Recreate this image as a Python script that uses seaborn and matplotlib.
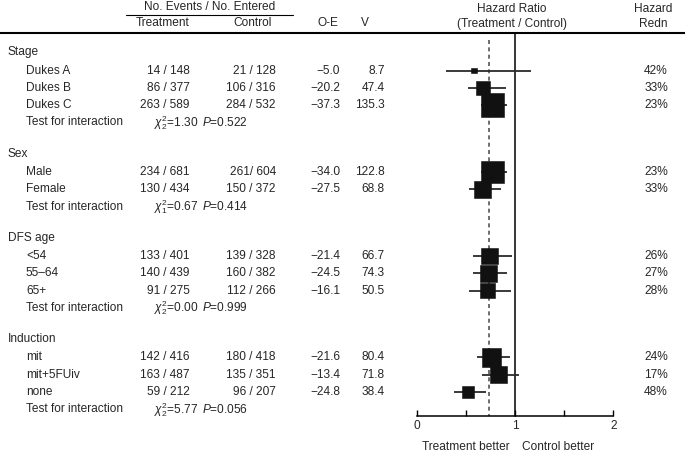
import numpy as np
import pandas as pd
import seaborn as sns
import matplotlib
matplotlib.use('Agg')
from matplotlib import pyplot as plt

groups = ['Stage', 'Sex', 'DFS age', 'Induction']
subgroups = [['Dukes A', 'Dukes B', 'Dukes C'],
             ['Male', 'Female'],
             ['<54', '55\u201364', '65+'],
             ['mit', 'mit+5FUiv', 'none']]
treatment = ['14 / 148', '86 / 377', '263 / 589',
             '234 / 681', '130 / 434',
             '133 / 401', '140 / 439', '91 / 275',
             '142 / 416', '163 / 487', '59 / 212']
control = ['21 / 128', '106 / 316', '284 / 532',
           '261/ 604', '150 / 372',
           '139 / 328', '160 / 382', '112 / 266',
           '180 / 418', '135 / 351', '96 / 207']
o_minus_e = [-5.0, -20.2, -37.3, -34.0, -27.5, -21.4, -24.5, -16.1, -21.6, -13.4, -24.8]
variance = [8.7, 47.4, 135.3, 122.8, 68.8, 66.7, 74.3, 50.5, 80.4, 71.8, 38.4]
hr = [0.58, 0.67, 0.77, 0.77, 0.67, 0.74, 0.73, 0.72, 0.76, 0.83, 0.52]
ci_low = [0.30, 0.52, 0.65, 0.65, 0.53, 0.57, 0.57, 0.53, 0.61, 0.66, 0.38]
ci_high = [1.16, 0.91, 0.92, 0.92, 0.86, 0.97, 0.92, 0.96, 0.95, 1.04, 0.71]
redn = [42, 33, 23, 23, 33, 26, 27, 28, 24, 17, 48]
chi_df = [2, 1, 2, 2]
chi_val = [1.30, 0.67, 0.00, 5.77]
p_val = [0.522, 0.414, 0.999, 0.056]
overall_hr = 0.74

sns.set_theme(style='white')
plt.rcParams['font.family'] = ['Liberation Sans', 'DejaVu Sans']
plt.rcParams['mathtext.fontset'] = 'custom'
plt.rcParams['mathtext.rm'] = 'Liberation Sans'
plt.rcParams['mathtext.it'] = 'Liberation Sans:italic'
fs = 8.6

# row layout (pixel coordinates, top = 0)
header_y, item_y, test_y = [], [], []
y = 52.5
for subs in subgroups:
    header_y.append(y)
    ys = y + 18 + 17.3 * np.arange(len(subs))
    item_y.extend(ys)
    test_y.append(ys[-1] + 17.3)
    y = test_y[-1] + 31.5

df = pd.DataFrame({'hr': hr, 'lo': ci_low, 'hi': ci_high, 'v': variance, 'y': item_y})

fig = plt.figure(figsize=(6.85, 4.53), dpi=100)
tax = fig.add_axes([0, 0, 1, 1])
tax.set_xlim(0, 685)
tax.set_ylim(453, 0)
tax.axis('off')

# header
tax.text(210, 7, 'No. Events / No. Entered', ha='center', va='center', fontsize=fs)
tax.plot([126, 293], [15, 15], color='black', lw=0.8)
tax.text(163, 23.5, 'Treatment', ha='center', va='center', fontsize=fs)
tax.text(253, 23.5, 'Control', ha='center', va='center', fontsize=fs)
tax.text(328, 23.5, 'O-E', ha='center', va='center', fontsize=fs)
tax.text(365, 23.5, 'V', ha='center', va='center', fontsize=fs)
tax.text(512, 9, 'Hazard Ratio', ha='center', va='center', fontsize=fs)
tax.text(512, 24, '(Treatment / Control)', ha='center', va='center', fontsize=fs)
tax.text(653, 9, 'Hazard', ha='center', va='center', fontsize=fs)
tax.text(653, 24, 'Redn', ha='center', va='center', fontsize=fs)
tax.plot([0, 685], [33.3, 33.3], color='black', lw=1.5)

for g, yy in zip(groups, header_y):
    tax.text(8, yy, g, ha='left', va='center', fontsize=fs)

labels = [s for subs in subgroups for s in subs]
for i, yy in enumerate(item_y):
    tax.text(26, yy, labels[i], ha='left', va='center', fontsize=fs)
    tax.text(190, yy, treatment[i], ha='right', va='center', fontsize=fs)
    tax.text(276, yy, control[i], ha='right', va='center', fontsize=fs)
    tax.text(340, yy, f'{o_minus_e[i]:.1f}'.replace('-', '\u2212'), ha='right', va='center', fontsize=fs)
    tax.text(385, yy, f'{variance[i]:.1f}', ha='right', va='center', fontsize=fs)
    tax.text(668, yy, f'{redn[i]}%', ha='right', va='center', fontsize=fs)

for j, yy in enumerate(test_y):
    tax.text(26, yy, 'Test for interaction', ha='left', va='center', fontsize=fs)
    tax.text(154, yy, r'$\chi^2_{%d}$=%.2f' % (chi_df[j], chi_val[j]), ha='left', va='center', fontsize=fs)
    tax.text(202, yy, r'$P$=%.3f' % p_val[j], ha='left', va='center', fontsize=fs)

# forest panel: x in hazard ratio units, y in pixels
ax = fig.add_axes([0, 0, 1, 1])
ax.patch.set_alpha(0)
px0, px_per = 416.7, 98.3
axis_y = 415.7

ax.hlines(df['y'], df['lo'], df['hi'], color='#2b2b2b', lw=1.3, zorder=2)
sns.scatterplot(data=df, x='hr', y='y', size='v', sizes=(0, 290), size_norm=(0, 135.3),
                marker='s', color='#111111', edgecolor='#111111', linewidth=0.4,
                legend=False, ax=ax, zorder=3)
ax.plot([overall_hr, overall_hr], [40, axis_y], color='#555555', lw=1.2,
        ls=(0, (2.4, 2.0)), zorder=1)
ax.plot([1, 1], [33.3, axis_y], color='black', lw=1.1, zorder=1)

ax.set_xlim(-px0 / px_per, (685 - px0) / px_per)
ax.set_ylim(453, 0)
ax.set_xlabel('')
ax.set_ylabel('')
for s in ['top', 'left', 'right']:
    ax.spines[s].set_visible(False)
ax.spines['bottom'].set_position(('data', axis_y))
ax.spines['bottom'].set_bounds(0, 2)
ax.spines['bottom'].set_color('black')
ax.spines['bottom'].set_linewidth(1.1)
ax.set_xticks([0, 0.5, 1, 1.5, 2])
ax.set_xticklabels(['0', '', '1', '', '2'], fontsize=fs)
ax.set_yticks([])
ax.tick_params(axis='x', direction='in', length=4, width=1.0, color='black', pad=3,
               bottom=True)
ax.text(1 - 5 / px_per, 446.5, 'Treatment better', ha='right', va='center', fontsize=fs)
ax.text(1 + 7 / px_per, 446.5, 'Control better', ha='left', va='center', fontsize=fs)

fig.savefig('out.png', dpi=100)
